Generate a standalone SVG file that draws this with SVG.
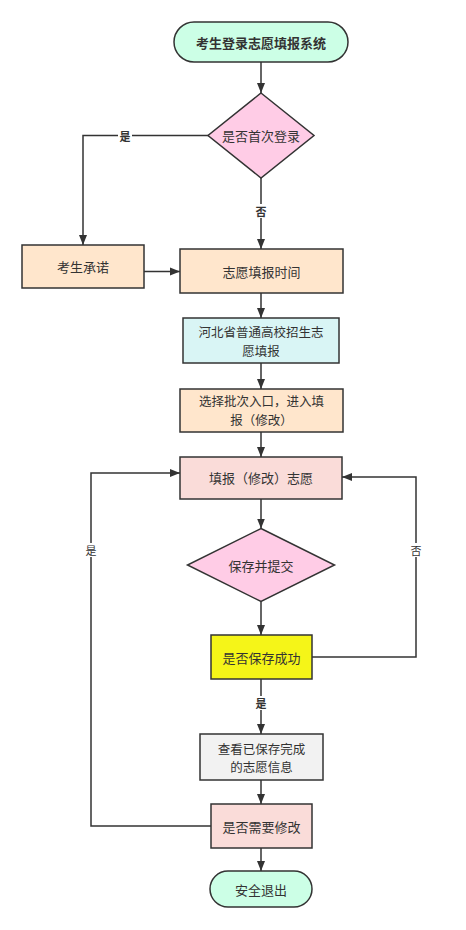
<svg xmlns="http://www.w3.org/2000/svg" width="466" height="930" viewBox="0 0 466 930">
<style>
.n{stroke:#333;stroke-width:1.5}
.t{font-family:"Noto Sans CJK SC","Liberation Sans",sans-serif;font-size:13px;fill:#333;text-anchor:middle;dominant-baseline:central}
.m{font-size:12.5px}
.s{font-size:11px}
.b{font-weight:bold}
.c{fill:none;stroke:#333;stroke-width:1.5}
.lb{fill:#fff}
</style>
<defs>
<marker id="ar" viewBox="0 0 10 10" refX="10" refY="5" markerWidth="10" markerHeight="10" markerUnits="userSpaceOnUse" orient="auto">
<path d="M0,1 L10,5 L0,9 Z" fill="#333"/>
</marker>
</defs>
<rect width="466" height="930" fill="#fff"/>
<g id="connectors">
<path class="c" d="M261,62 V93" marker-end="url(#ar)"/>
<path class="c" d="M209,135.5 H83 V245" marker-end="url(#ar)"/>
<path class="c" d="M261,178 V249" marker-end="url(#ar)"/>
<path class="c" d="M144,271.5 H180" marker-end="url(#ar)"/>
<path class="c" d="M261,293 V318" marker-end="url(#ar)"/>
<path class="c" d="M261,363 V389" marker-end="url(#ar)"/>
<path class="c" d="M261,432 V457" marker-end="url(#ar)"/>
<path class="c" d="M261,499 V528.5" marker-end="url(#ar)"/>
<path class="c" d="M261,601.5 V635" marker-end="url(#ar)"/>
<path class="c" d="M261,679 V734" marker-end="url(#ar)"/>
<path class="c" d="M261,780 V804" marker-end="url(#ar)"/>
<path class="c" d="M261,848 V871" marker-end="url(#ar)"/>
<path class="c" d="M211,826 H91 V473 H180" marker-end="url(#ar)"/>
<path class="c" d="M312,657 H416 V477 H342" marker-end="url(#ar)"/>
<rect class="lb" x="118" y="129" width="14" height="13"/>
<text class="t s b" x="125" y="135.5">是</text>
<rect class="lb" x="254" y="204" width="14" height="14"/>
<text class="t s b" x="261" y="211">否</text>
<rect class="lb" x="84" y="543" width="14" height="14"/>
<text class="t s" x="91" y="550">是</text>
<rect class="lb" x="409" y="543" width="14" height="14"/>
<text class="t s" x="416" y="550">否</text>
<rect class="lb" x="254" y="696" width="14" height="14"/>
<text class="t s b" x="261" y="703">是</text>
</g>
<g id="start">
<rect class="n" x="174" y="22" width="174" height="40" rx="20" fill="#ccffe6"/>
<text class="t b" x="261" y="42">考生登录志愿填报系统</text>
</g>
<g id="first-login">
<path class="n" d="M261,93 L314,135.5 L261,178 L208,135.5 Z" fill="#ffcce6"/>
<text class="t" x="261" y="135.5">是否首次登录</text>
</g>
<g id="promise">
<rect class="n" x="22" y="245" width="122" height="43" fill="#ffe6cc"/>
<text class="t" x="83" y="266.5">考生承诺</text>
</g>
<g id="fill-time">
<rect class="n" x="180" y="249" width="163" height="44" fill="#ffe6cc"/>
<text class="t" x="261.5" y="271">志愿填报时间</text>
</g>
<g id="hebei">
<rect class="n" x="183" y="318" width="156" height="45" fill="#d9f5f5"/>
<text class="t m"><tspan x="261" y="331.2">河北省普通高校招生志</tspan><tspan x="261" y="349.5">愿填报</tspan></text>
</g>
<g id="select-batch">
<rect class="n" x="180" y="389" width="163" height="43" fill="#ffe6cc"/>
<text class="t m"><tspan x="261.5" y="400.3">选择批次入口，进入填</tspan><tspan x="261.5" y="418.6">报（修改）</tspan></text>
</g>
<g id="fill-wish">
<rect class="n" x="180" y="457" width="162" height="42" fill="#fadcd9"/>
<text class="t" x="261" y="477">填报（修改）志愿</text>
</g>
<g id="save-submit">
<path class="n" d="M261,528.5 L334.5,565 L261,601.5 L187.5,565 Z" fill="#ffcce6"/>
<text class="t" x="261" y="565">保存并提交</text>
</g>
<g id="save-ok">
<rect class="n" x="211" y="635" width="101" height="44" fill="#f5f518"/>
<text class="t" x="261.5" y="657">是否保存成功</text>
</g>
<g id="view-saved">
<rect class="n" x="200" y="734" width="123" height="46" fill="#f2f2f2"/>
<text class="t m"><tspan x="261.5" y="747.6">查看已保存完成</tspan><tspan x="261.5" y="765.9">的志愿信息</tspan></text>
</g>
<g id="need-modify">
<rect class="n" x="211" y="804" width="101" height="44" fill="#fadcd9"/>
<text class="t" x="261.5" y="826">是否需要修改</text>
</g>
<g id="exit">
<rect class="n" x="210" y="871" width="102" height="36" rx="18" fill="#ccffe6"/>
<text class="t" x="261" y="889">安全退出</text>
</g>
</svg>
